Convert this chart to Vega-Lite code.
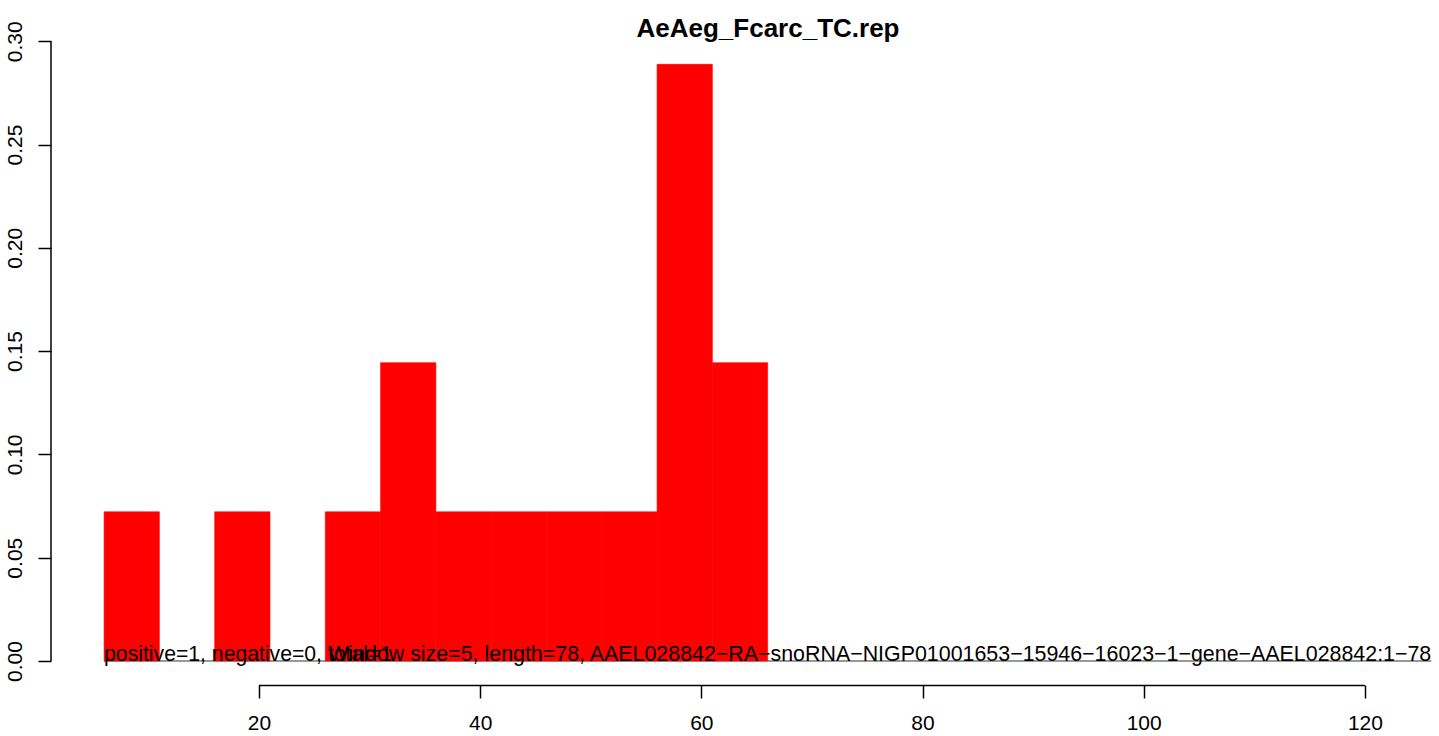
{
  "$schema": "https://vega.github.io/schema/vega-lite/v6.json",
  "autosize": {"type": "none"},
  "width": 1388,
  "height": 644,
  "padding": {"left": 51, "top": 41, "right": 0, "bottom": 51},
  "background": "white",
  "title": {"text": "AeAeg_Fcarc_TC.rep", "font": "Liberation Sans", "fontSize": 26, "fontWeight": "bold", "color": "black", "anchor": "middle", "frame": "group", "dx": 23, "baseline": "alphabetic", "offset": -42},
  "config": {
    "view": {"stroke": null},
    "axis": {"grid": false, "domain": false, "labelFont": "Liberation Sans", "labelFontSize": 21, "labelColor": "black", "tickColor": "black", "tickWidth": 1.5, "tickSize": 13, "title": null}
  },
  "datasets": {
    "bins": [
      {"start": 6, "end": 11, "value": 0.0722},
      {"start": 16, "end": 21, "value": 0.0722},
      {"start": 26, "end": 31, "value": 0.0722},
      {"start": 31, "end": 36, "value": 0.1444},
      {"start": 36, "end": 41, "value": 0.0722},
      {"start": 41, "end": 46, "value": 0.0722},
      {"start": 46, "end": 51, "value": 0.0722},
      {"start": 51, "end": 56, "value": 0.0722},
      {"start": 56, "end": 61, "value": 0.2888},
      {"start": 61, "end": 66, "value": 0.1444}
    ]
  },
  "layer": [
    {
      "data": {"values": [{"from": 6, "to": 126, "level": 0}]},
      "mark": {"type": "rule", "color": "#333333", "strokeWidth": 1},
      "encoding": {
        "x": {"field": "from", "type": "quantitative", "scale": {"domain": [1.2, 126.7], "nice": false, "zero": false}, "axis": {"values": [20, 40, 60, 80, 100, 120], "labelPadding": 14, "labelFlush": false, "labelOverlap": false}},
        "x2": {"field": "to"},
        "y": {"field": "level", "type": "quantitative", "scale": {"domain": [-0.01162, 0.30011], "nice": false, "zero": false}, "axis": {"values": [0, 0.05, 0.1, 0.15, 0.2, 0.25, 0.3], "format": ".2f", "labelAngle": -90, "labelAlign": "center", "labelBaseline": "bottom", "labelPadding": 13, "labelFlush": false, "labelOverlap": false}}
      }
    },
    {
      "data": {"name": "bins"},
      "mark": {"type": "rect", "color": "#FF0000", "stroke": "#FF0000", "strokeWidth": 0.6},
      "encoding": {
        "x": {"field": "start", "type": "quantitative"},
        "x2": {"field": "end"},
        "y": {"field": "value", "type": "quantitative"},
        "y2": {"datum": 0}
      }
    },
    {
      "data": {"values": [{"from": 20, "to": 120, "level": -0.01186}]},
      "mark": {"type": "rule", "color": "black", "strokeWidth": 1.5},
      "encoding": {
        "x": {"field": "from", "type": "quantitative"},
        "x2": {"field": "to"},
        "y": {"field": "level", "type": "quantitative"}
      }
    },
    {
      "data": {"values": [{"pos": 1.2, "lo": 0, "hi": 0.3}]},
      "mark": {"type": "rule", "color": "black", "strokeWidth": 1.5},
      "encoding": {
        "x": {"field": "pos", "type": "quantitative"},
        "y": {"field": "lo", "type": "quantitative"},
        "y2": {"field": "hi"}
      }
    },
    {
      "data": {"values": [
        {"xpos": 6, "ypos": 0, "label": "positive=1, negative=0, total=1"}
      ]},
      "mark": {"type": "text", "font": "Liberation Sans", "fontSize": 21.2, "color": "black", "baseline": "alphabetic", "align": "left"},
      "encoding": {
        "x": {"field": "xpos", "type": "quantitative"},
        "y": {"field": "ypos", "type": "quantitative"},
        "text": {"field": "label"}
      }
    },
    {
      "data": {"values": [
        {"xpos": 126, "ypos": 0, "label": "Window size=5, length=78, AAEL028842−RA−snoRNA−NIGP01001653−15946−16023−1−gene−AAEL028842:1−78"}
      ]},
      "mark": {"type": "text", "font": "Liberation Sans", "fontSize": 21.4, "color": "black", "baseline": "alphabetic", "align": "right"},
      "encoding": {
        "x": {"field": "xpos", "type": "quantitative"},
        "y": {"field": "ypos", "type": "quantitative"},
        "text": {"field": "label"}
      }
    }
  ]
}
